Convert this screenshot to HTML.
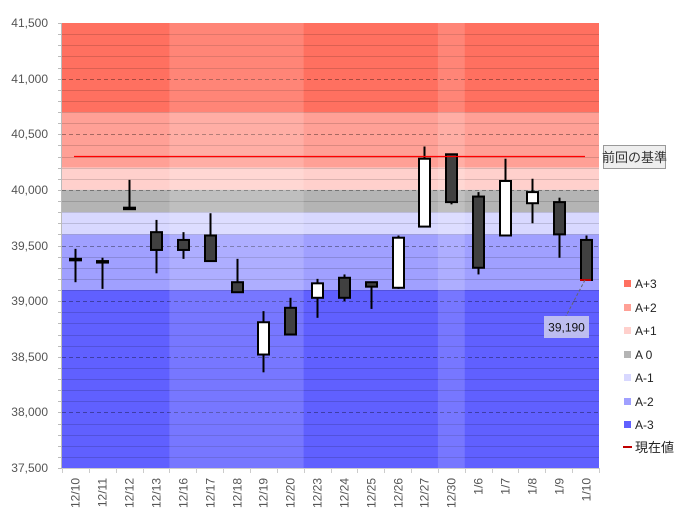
<!DOCTYPE html>
<html><head><meta charset="utf-8">
<style>
html,body{margin:0;padding:0;background:#fff;}
svg{display:block;font-family:"Liberation Sans","Noto Sans CJK JP",sans-serif;}
</style></head>
<body>
<svg id="s" width="693" height="522" viewBox="0 0 693 522" xmlns="http://www.w3.org/2000/svg">
<g id="bg"></g>
<g id="grid"></g>
<g id="cols"></g>
<g id="candles"></g>
<line x1="74" y1="156.5" x2="585" y2="156.5" stroke="#ff0000" stroke-width="1.3"/>
<rect x="603.5" y="145.5" width="62" height="23" fill="#eeeeee" stroke="#999" stroke-width="1"/>
<text x="634.5" y="162" font-size="13" fill="#333" text-anchor="middle">前回の基準</text>
<line x1="585" y1="280" x2="566" y2="316" stroke="#666" stroke-width="1" stroke-dasharray="3,2"/>
<rect x="544" y="316" width="45" height="22" fill="#c8c8f0" opacity="0.9"/>
<text x="566.5" y="331.5" font-size="12" fill="#111" text-anchor="middle">39,190</text>
<g font-size="12" fill="#555" text-anchor="end">
<text x="48" y="27">41,500</text>
<text x="48" y="83">41,000</text>
<text x="48" y="138">40,500</text>
<text x="48" y="194">40,000</text>
<text x="48" y="250">39,500</text>
<text x="48" y="305">39,000</text>
<text x="48" y="361">38,500</text>
<text x="48" y="416">38,000</text>
<text x="48" y="472">37,500</text>
</g>
<g id="xl" font-size="12" fill="#555" text-anchor="end"></g>
<g font-size="12" fill="#222">
<rect x="624" y="280" width="7" height="7" fill="#ff7060"/><text x="635" y="288">A+3</text>
<rect x="624" y="304" width="7" height="7" fill="#ffa096"/><text x="635" y="312">A+2</text>
<rect x="624" y="327" width="7" height="7" fill="#ffd0cc"/><text x="635" y="335">A+1</text>
<rect x="624" y="351" width="7" height="7" fill="#b4b4b4"/><text x="635" y="359">A 0</text>
<rect x="624" y="374" width="7" height="7" fill="#d8d8ff"/><text x="635" y="382">A-1</text>
<rect x="624" y="398" width="7" height="7" fill="#a0a0ff"/><text x="635" y="406">A-2</text>
<rect x="624" y="421" width="7" height="7" fill="#6060ff"/><text x="635" y="429">A-3</text>
<rect x="623" y="446" width="9" height="2" fill="#c00000"/><text x="635" y="452" font-size="13">現在値</text>
</g>
</svg>
<script>
var NS="http://www.w3.org/2000/svg";
function el(p,t,a){var e=document.createElementNS(NS,t);for(var k in a)e.setAttribute(k,a[k]);p.appendChild(e);return e;}
var X0=62,X1=599,W=(X1-X0)/20;
function Y(v){return 23+(41500-v)*0.11125;}
var bg=document.getElementById('bg');
var bands=[[41500,40700,'#ff7060'],[40700,40200,'#ffa096'],[40200,40000,'#ffd0cc'],[40000,39800,'#b4b4b4'],[39800,39600,'#d8d8ff'],[39600,39100,'#a0a0ff'],[39100,37500,'#6060ff']];
bands.forEach(function(b){el(bg,'rect',{x:X0,y:Y(b[0]),width:X1-X0,height:Y(b[1])-Y(b[0]),fill:b[2]});});
var g=document.getElementById('grid');
for(var v=37600;v<41500;v+=100){
 var y=Math.round(Y(v))+0.5;
 if(v%500==0) el(g,'line',{x1:X0,x2:X1,y1:y,y2:y,stroke:'rgba(0,0,0,0.35)','stroke-dasharray':'4,3','stroke-width':1});
 else el(g,'line',{x1:X0,x2:X1,y1:y,y2:y,stroke:'rgba(0,0,0,0.14)','stroke-width':1});
}
el(g,'line',{x1:X0-0.5,x2:X0-0.5,y1:23,y2:468,stroke:'#bbb'});
el(g,'line',{x1:X0,x2:X1,y1:468.5,y2:468.5,stroke:'#ccc'});
for(var v=37500;v<=41500;v+=100){var y=Math.round(Y(v))+0.5;el(g,'line',{x1:X0-4,x2:X0,y1:y,y2:y,stroke:'#bbb'});}
for(var i=0;i<=20;i++){var x=Math.round(X0+i*W)+0.5;el(g,'line',{x1:x,x2:x,y1:468,y2:473,stroke:'#ccc'});}
var cols=document.getElementById('cols');
[[4,5],[14,1]].forEach(function(c){el(cols,'rect',{x:X0+c[0]*W,y:23,width:c[1]*W,height:445,fill:'rgba(255,255,255,0.15)'});});
var d=[[39380,39470,39170,39370],[39360,39390,39110,39350],[39840,40090,39840,39840],[39620,39730,39250,39460],[39550,39620,39380,39460],[39590,39790,39360,39360],[39170,39380,39080,39080],[38520,38910,38360,38810],[38940,39030,38700,38700],[39030,39200,38850,39160],[39210,39240,39000,39030],[39170,39170,38930,39130],[39120,39590,39110,39570],[39670,40390,39670,40280],[40320,40320,39870,39890],[39940,39980,39240,39300],[39590,40280,39590,40080],[39880,40100,39700,39980],[39890,39930,39390,39600],[39550,39590,39190,39190]];
var lab=['12/10','12/11','12/12','12/13','12/16','12/17','12/18','12/19','12/20','12/23','12/24','12/25','12/26','12/27','12/30','1/6','1/7','1/8','1/9','1/10'];
var cg=document.getElementById('candles'),xl=document.getElementById('xl');
d.forEach(function(c,i){
 var cx=Math.round(X0+W*(i+0.5))+0.5;
 var o=c[0],h=c[1],l=c[2],cl=c[3];
 el(cg,'line',{x1:cx,x2:cx,y1:Y(h),y2:Y(l),stroke:'#000','stroke-width':2});
 var top=Y(Math.max(o,cl)),bot=Y(Math.min(o,cl)),hh=Math.max(bot-top,1.5);
 var white=cl>o;
 el(cg,'rect',{x:cx-5.5,y:top,width:11,height:hh,fill:white?'#fff':'#404040',stroke:'#000','stroke-width':2});
 var t=el(xl,'text',{x:0,y:0,transform:'translate('+(cx+4)+',478) rotate(-90)'});t.textContent=lab[i];
});
el(cg,'line',{x1:580,x2:591,y1:Y(39190),y2:Y(39190),stroke:'#c00000','stroke-width':2});
</script>
</body></html>
